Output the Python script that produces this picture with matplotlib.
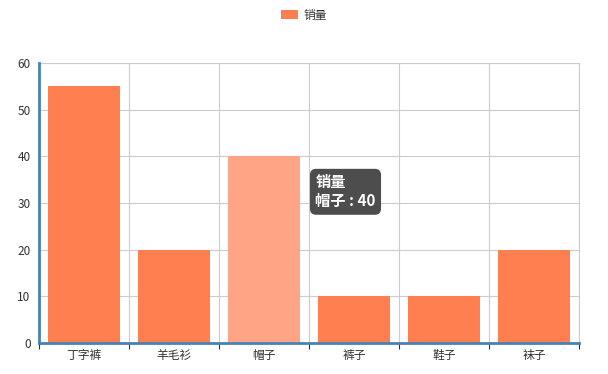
import matplotlib
matplotlib.use("Agg")
import matplotlib.pyplot as plt

plt.rcParams['font.family'] = ['Noto Sans CJK SC', 'DejaVu Sans']

categories = ['丁字裤', '羊毛衫', '帽子', '裤子', '鞋子', '袜子']
sales = [55, 20, 40, 10, 10, 20]
series_name = '销量'
highlight = 2

fig = plt.figure(figsize=(6.08, 3.74), dpi=100)
ax = fig.add_axes([39/608, 31/374, 540/608, 280/374])

colors = ['#FF7F50'] * len(categories)
colors[highlight] = '#FFA585'
x = list(range(len(categories)))
bars = ax.bar(x, sales, width=0.8, color=colors, zorder=3, label=series_name)

ax.set_xlim(-0.5, len(categories) - 0.5)
ax.set_ylim(0, 60)
ax.set_yticks(range(0, 61, 10))
ax.set_xticks(x)
ax.set_xticklabels(categories)
ax.set_xticks([i + 0.5 for i in range(-1, len(categories))], minor=True)

ax.grid(axis='y', color='#cccccc', lw=0.8, zorder=0)
ax.grid(axis='x', which='minor', color='#cccccc', lw=0.8, zorder=0)

for s in ['top', 'right']:
    ax.spines[s].set_color('#cccccc')
    ax.spines[s].set_linewidth(0.8)
for s in ['left', 'bottom']:
    ax.spines[s].set_color('#4682B4')
    ax.spines[s].set_linewidth(2)
    ax.spines[s].set_zorder(4)

ax.tick_params(axis='y', length=0, labelsize=8.5, labelcolor='#333333', pad=6)
ax.tick_params(axis='x', which='major', length=0, labelsize=8.5, labelcolor='#333333', pad=4)
ax.tick_params(axis='x', which='minor', length=4, color='#333333', width=0.8)

leg = fig.legend(loc='upper center', bbox_to_anchor=(0.5, 1.005), frameon=False,
                 fontsize=8.5, handlelength=1.4, handleheight=0.8, handletextpad=0.5)
for t in leg.get_texts():
    t.set_color('#333333')

# tooltip
ax.text(2.57, 32.4, series_name + '\n' + categories[highlight] + ' : ' + str(sales[highlight]),
        color='white', fontsize=11, fontweight='bold', va='center', ha='left', zorder=6,
        linespacing=1.25,
        bbox=dict(boxstyle='round,pad=0.35,rounding_size=0.4', fc='#4d4d4d', ec='none'))

fig.savefig('out.png', dpi=100)
